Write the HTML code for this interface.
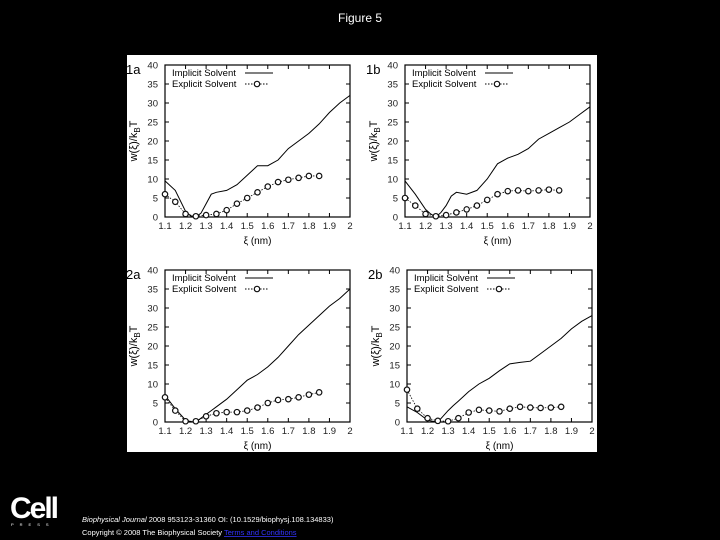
<!DOCTYPE html>
<html><head><meta charset="utf-8"><style>
html,body{margin:0;padding:0;background:#000;width:720px;height:540px;overflow:hidden;font-family:"Liberation Sans",sans-serif}
svg{position:absolute;left:0;top:0}
</style></head><body>
<svg id="c" width="720" height="540">
<text x="360" y="22" fill="#fff" font-size="12" text-anchor="middle">Figure 5</text>
<rect x="127" y="55" width="470" height="397" fill="#fff"/>
<g>
<text x="10" y="518" fill="#fff" font-size="30" font-weight="bold" letter-spacing="-2">Cell</text>
<text x="11" y="526" fill="#fff" font-size="4" letter-spacing="6">PRESS</text>
</g>
<text x="82" y="522" fill="#fff" font-size="7.5"><tspan font-style="italic">Biophysical Journal</tspan> 2008 953123-31360 OI: (10.1529/biophysj.108.134833)</text>
<text x="82" y="535" fill="#fff" font-size="7.5">Copyright © 2008 The Biophysical Society <tspan fill="#33f" text-decoration="underline">Terms and Conditions</tspan></text>
</svg>
<script>
const xImp=[1.1,1.15,1.2,1.225,1.25,1.275,1.3,1.325,1.35,1.4,1.45,1.5,1.55,1.6,1.65,1.7,1.75,1.8,1.85,1.9,1.95,2.0];
const xExp=[1.1,1.15,1.2,1.25,1.3,1.35,1.4,1.45,1.5,1.55,1.6,1.65,1.7,1.75,1.8,1.85];
const imp1a=[9.5,7,1.5,0.3,0,1,3.5,6,6.5,7,8.5,11,13.5,13.5,15,18,20,22,24.5,27.5,30,32];
const exp1a=[6,4,0.8,0.2,0.5,0.8,1.8,3.5,5,6.5,8,9.2,9.8,10.3,10.8,10.8];
const imp1b=[9.5,6,2,0.8,0,1.2,3,5.5,6.5,6,7,10,14,15.5,16.5,18,20.5,22,23.5,25,27,29];
const exp1b=[5,3,0.8,0.2,0.5,1.2,2,3,4.5,6,6.8,7,6.8,7,7.2,7];
const imp2a=[7,3.5,0.5,0.1,0,1,2,3,4,6,8.5,11,12.5,14.5,17,20,23,25.5,28,30.5,32.5,35];
const exp2a=[6.5,3,0.2,0.2,1.5,2.3,2.6,2.6,3,3.8,5,5.8,6,6.5,7.2,7.8];
const imp2b=[4,2.5,0.5,0.2,0,1.5,3,4.3,5.5,8,10,11.5,13.5,15.3,15.7,16,18,20,22,24.5,26.5,28];
const exp2b=[8.5,3.5,1,0.3,0.2,1,2.5,3.2,3,2.8,3.5,4,3.8,3.7,3.8,4];
const xTicks=["1.1","1.2","1.3","1.4","1.5","1.6","1.7","1.8","1.9","2"];
const yTicks=[0,5,10,15,20,25,30,35,40];
const panels=[
 {id:"1a",x0:165,x1:350,y0:65,y1:217,imp:imp1a,exp:exp1a},
 {id:"1b",x0:405,x1:590,y0:65,y1:217,imp:imp1b,exp:exp1b},
 {id:"2a",x0:165,x1:350,y0:270,y1:422,imp:imp2a,exp:exp2a},
 {id:"2b",x0:407,x1:592,y0:270,y1:422,imp:imp2b,exp:exp2b}];
const NS="http://www.w3.org/2000/svg";
const svg=document.getElementById('c');
function mk(t,a,p){const e=document.createElementNS(NS,t);for(const k in a)e.setAttribute(k,a[k]);(p||svg).appendChild(e);return e;}
panels.forEach(P=>{
 const g=mk('g',{});
 
 
 const sx=v=>P.x0+(v-1.1)/0.9*(P.x1-P.x0);
 const sy=v=>P.y1-v/40*(P.y1-P.y0);
 const box=mk('rect',{x:P.x0,y:P.y0,width:P.x1-P.x0,height:P.y1-P.y0,fill:'none',stroke:'#000','stroke-width':1.2},g);
 
 
 xTicks.forEach(t=>{const x=sx(parseFloat(t));
  mk('line',{x1:x,x2:x,y1:P.y1,y2:P.y1-4,stroke:'#000'},g);mk('line',{x1:x,x2:x,y1:P.y0,y2:P.y0+4,stroke:'#000'},g);
  const tx=mk('text',{x:x,y:P.y1+12,'font-size':9.5,'text-anchor':'middle',fill:'#222'},g);tx.textContent=t;
  
  });
 yTicks.forEach(t=>{const y=sy(t);
  mk('line',{x1:P.x0,x2:P.x0+4,y1:y,y2:y,stroke:'#000'},g);mk('line',{x1:P.x1,x2:P.x1-4,y1:y,y2:y,stroke:'#000'},g);
  const tx=mk('text',{x:P.x0-7,y:y+3.5,'font-size':9.5,'text-anchor':'end',fill:'#222'},g);tx.textContent=t;
  
  });
 const pl=mk('text',{x:P.x0-39,y:P.y0+9,'font-size':13,fill:'#000'},g);pl.textContent=P.id;
 
 
 const xl=mk('text',{x:(P.x0+P.x1)/2,y:P.y1+27,'font-size':10,'text-anchor':'middle'},g);xl.textContent="ξ (nm)";
 
 
 const cy=(P.y0+P.y1)/2;
 const yl=mk('text',{x:P.x0-28,y:cy,'font-size':11,'text-anchor':'middle',transform:`rotate(-90 ${P.x0-28} ${cy})`},g);
 yl.innerHTML='w(ξ)/k<tspan font-size="8" dy="3">B</tspan><tspan dy="-3">T</tspan>';
 
 
 const l1=mk('polyline',{points:xImp.map((x,i)=>sx(x)+','+sy(P.imp[i])).join(' '),fill:'none',stroke:'#000','stroke-width':1},g);
 
 
 const l2=mk('polyline',{points:xExp.map((x,i)=>sx(x)+','+sy(P.exp[i])).join(' '),fill:'none',stroke:'#000','stroke-width':0.8,'stroke-dasharray':'1.5,1.5'},g);
 
 
 xExp.forEach((x,i)=>{const c=mk('circle',{cx:sx(x),cy:sy(P.exp[i]),r:2.7,fill:'#fff',stroke:'#111','stroke-width':1.2},g);
  
  });
 const lg=mk('g',{},g);
 
 
 const t1=mk('text',{x:P.x0+7,y:P.y0+11,'font-size':9.5},lg);t1.textContent="Implicit Solvent";
 
 
 mk('line',{x1:P.x0+80,x2:P.x0+108,y1:P.y0+8,y2:P.y0+8,stroke:'#000'},lg);
 const t2=mk('text',{x:P.x0+7,y:P.y0+22,'font-size':9.5},lg);t2.textContent="Explicit Solvent";
 
 
 mk('line',{x1:P.x0+80,x2:P.x0+104,y1:P.y0+19,y2:P.y0+19,stroke:'#000','stroke-dasharray':'1.5,1.5'},lg);
 mk('circle',{cx:P.x0+92,cy:P.y0+19,r:2.7,fill:'#fff',stroke:'#111','stroke-width':1.2},lg);
});
</script>
</body></html>
